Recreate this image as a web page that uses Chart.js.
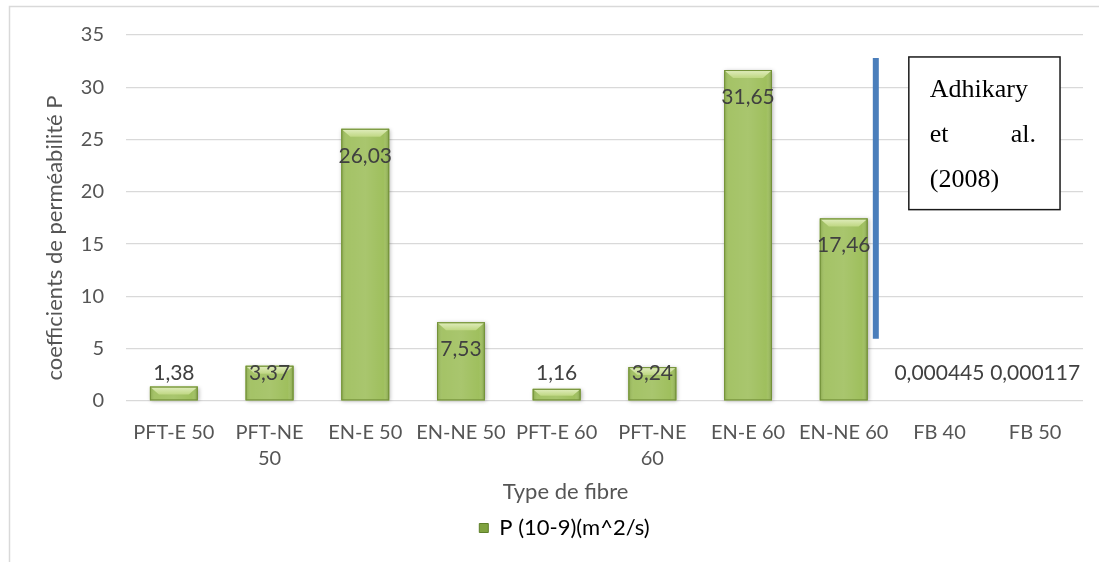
<!DOCTYPE html>
<html>
<head>
<meta charset="utf-8">
<script src="https://cdn.jsdelivr.net/npm/chart.js@4/dist/chart.umd.min.js"></script>
<style>
  html, body { margin: 0; padding: 0; background: #ffffff; }
  #wrap { position: relative; width: 1099px; height: 562px; }
  canvas { display: block; }
</style>
</head>
<body>
<div id="wrap"><canvas id="chart" width="1099" height="562"></canvas></div>
<script>
// Permeability coefficient per fibre type
const categories = [
  'PFT-E 50', ['PFT-NE', '50'], 'EN-E 50', 'EN-NE 50', 'PFT-E 60',
  ['PFT-NE', '60'], 'EN-E 60', 'EN-NE 60', 'FB 40', 'FB 50'
];
const permeability = [1.38, 3.37, 26.03, 7.53, 1.16, 3.24, 31.65, 17.46, 0.000445, 0.000117];
const seriesName = 'P (10-9)(m^2/s)';
const yTicks = [0, 5, 10, 15, 20, 25, 30, 35];
const xTitle = 'Type de fibre';
const yTitle = 'coefficients de perméabilité P';
const refLines = ['Adhikary', ['et', 'al.'], '(2008)'];

const TEXT = '#555555';
const FONT = 'Lato, "Open sans", sans-serif';
const BAR = '#9DBE5A';

// light frame around the figure
const framePlugin = {
  id: 'frame',
  beforeDraw(chart) {
    const c = chart.ctx;
    c.save();
    c.strokeStyle = '#D9D9D9';
    c.lineWidth = 1.5;
    c.beginPath();
    c.moveTo(9.5, chart.height);
    c.lineTo(9.5, 6.5);
    c.lineTo(chart.width, 6.5);
    c.stroke();
    c.restore();
  }
};

// legend sits a little left of the plot centre, under the axis title
const legendShift = {
  id: 'legendShift',
  afterLayout(chart) {
    const lg = chart.legend;
    if (!lg) return;
    lg.left += 18;
    lg.right += 18;
  }
};

// axis titles, drawn in the space reserved by the scales
const axisTitles = {
  id: 'axisTitles',
  afterDraw(chart) {
    const c = chart.ctx;
    const a = chart.chartArea;
    c.save();
    c.font = '22px ' + FONT;
    c.fillStyle = TEXT;
    c.textAlign = 'center';
    c.textBaseline = 'middle';
    c.fillText(xTitle, (a.left + a.right) / 2 - 39, a.bottom + 91);
    c.translate(55, (a.top + a.bottom) / 2 + 20);
    c.rotate(-Math.PI / 2);
    c.fillText(yTitle, 0, 0);
    c.restore();
  }
};

// soft shadow behind the bars
const shadowPlugin = {
  id: 'barShadow',
  beforeDatasetsDraw(chart) {
    const c = chart.ctx;
    const meta = chart.getDatasetMeta(0);
    c.save();
    c.shadowColor = 'rgba(0,0,0,0.3)';
    c.shadowBlur = 4;
    c.shadowOffsetX = 1;
    c.shadowOffsetY = 1;
    c.fillStyle = BAR;
    meta.data.forEach((bar) => {
      const h = bar.base - bar.y;
      if (h < 1) return;
      c.fillRect(bar.x - bar.width / 2, bar.y, bar.width, h);
    });
    c.restore();
  }
};

// bevelled look: side shading and a lighter top facet
const bevelPlugin = {
  id: 'bevel',
  afterDatasetsDraw(chart) {
    const c = chart.ctx;
    const meta = chart.getDatasetMeta(0);
    meta.data.forEach((bar) => {
      const w = bar.width;
      const left = bar.x - w / 2, right = bar.x + w / 2;
      const top = bar.y, bottom = bar.base;
      const h = bottom - top;
      if (h < 1) return;
      c.save();
      const g = c.createLinearGradient(left, 0, right, 0);
      g.addColorStop(0, 'rgba(80,110,30,0.3)');
      g.addColorStop(0.12, 'rgba(255,255,255,0.08)');
      g.addColorStop(0.5, 'rgba(255,255,255,0.12)');
      g.addColorStop(0.88, 'rgba(255,255,255,0.02)');
      g.addColorStop(1, 'rgba(60,90,20,0.35)');
      c.fillStyle = g;
      c.fillRect(left, top, w, h);
      const bv = Math.min(8, h * 0.6);
      const tg = c.createLinearGradient(0, top, 0, top + bv);
      tg.addColorStop(0, '#E2EEC0');
      tg.addColorStop(1, '#BFD783');
      c.fillStyle = tg;
      c.beginPath();
      c.moveTo(left + 1, top + 1);
      c.lineTo(right - 1, top + 1);
      c.lineTo(right - 1 - bv, top + bv);
      c.lineTo(left + 1 + bv, top + bv);
      c.closePath();
      c.fill();
      c.strokeStyle = '#74913A';
      c.lineWidth = 1;
      c.strokeRect(left + 0.5, top + 0.5, w - 1, h - 1);
      c.restore();
    });
  }
};

// value labels, inside the top of tall bars, above the short ones
const valueLabels = {
  id: 'valueLabels',
  afterDatasetsDraw(chart) {
    const c = chart.ctx;
    const meta = chart.getDatasetMeta(0);
    c.save();
    c.font = '21px ' + FONT;
    c.fillStyle = '#404040';
    c.textAlign = 'center';
    c.textBaseline = 'middle';
    meta.data.forEach((bar, i) => {
      const y = Math.min(bar.y + 27, bar.base - 27);
      c.fillText(String(permeability[i]).replace('.', ','), bar.x, y);
    });
    c.restore();
  }
};

// reference marker: vertical separator and citation box
const referencePlugin = {
  id: 'reference',
  afterDraw(chart) {
    const c = chart.ctx;
    const xs = chart.scales.x, ys = chart.scales.y;
    const step = xs.getPixelForValue(1) - xs.getPixelForValue(0);
    const lx = xs.getPixelForValue(7) + 0.335 * step;
    c.save();
    c.strokeStyle = '#4A7EBB';
    c.lineWidth = 6;
    c.beginPath();
    c.moveTo(lx, ys.getPixelForValue(32.8));
    c.lineTo(lx, ys.getPixelForValue(5.95));
    c.stroke();

    const bx = xs.getPixelForValue(7) + 0.68 * step;
    const bx2 = xs.getPixelForValue(9) + 0.26 * step;
    const by = ys.getPixelForValue(32.9);
    const by2 = ys.getPixelForValue(18.3);
    c.fillStyle = '#ffffff';
    c.fillRect(bx, by, bx2 - bx, by2 - by);
    c.strokeStyle = '#1a1a1a';
    c.lineWidth = 1.5;
    c.strokeRect(bx, by, bx2 - bx, by2 - by);

    c.font = '26px "Liberation Serif", "Times New Roman", serif';
    c.fillStyle = '#000000';
    c.textBaseline = 'alphabetic';
    const padL = 21, padR = 24;
    const base0 = by + 40, gap = 45;
    refLines.forEach((ln, i) => {
      const yy = base0 + i * gap;
      if (Array.isArray(ln)) {
        c.textAlign = 'left';
        c.fillText(ln[0], bx + padL, yy);
        c.textAlign = 'right';
        c.fillText(ln[1], bx2 - padR, yy);
      } else {
        c.textAlign = 'left';
        c.fillText(ln, bx + padL, yy);
      }
    });
    c.restore();
  }
};

// bars thinner than a pixel stay invisible instead of tinting the zero line
function barFill(ctx) {
  const ys = ctx.chart.scales.y;
  if (!ys || typeof ctx.raw !== 'number') return BAR;
  const h = Math.abs(ys.getPixelForValue(ctx.raw) - ys.getPixelForValue(0));
  return h < 1 ? 'rgba(0,0,0,0)' : BAR;
}

new Chart(document.getElementById('chart'), {
  type: 'bar',
  data: {
    labels: categories,
    datasets: [{
      label: seriesName,
      data: permeability,
      backgroundColor: barFill,
      borderColor: '#6F8C33',
      borderWidth: 0,
      inflateAmount: 0,
      barPercentage: 0.5,
      categoryPercentage: 1.0
    }]
  },
  options: {
    responsive: false,
    animation: false,
    devicePixelRatio: 1,
    layout: { padding: { left: 10, right: 16, top: 35, bottom: 13 } },
    plugins: {
      tooltip: { enabled: false },
      legend: {
        position: 'bottom',
        labels: {
          color: TEXT,
          font: { family: FONT, size: 22 },
          boxWidth: 9,
          boxHeight: 9,
          padding: 10,
          generateLabels(chart) {
            return [{
              text: seriesName,
              fillStyle: '#7FA23F',
              strokeStyle: '#5E7F2A',
              lineWidth: 1,
              datasetIndex: 0
            }];
          }
        }
      }
    },
    scales: {
      x: {
        grid: { display: false, drawTicks: false },
        border: { display: false },
        ticks: {
          color: TEXT,
          font: { family: FONT, size: 20, lineHeight: 1.3 },
          padding: 19,
          autoSkip: false,
          maxRotation: 0,
          minRotation: 0
        },
        title: { display: false },
        afterFit(scale) { scale.height = 106; }
      },
      y: {
        min: 0,
        max: 35,
        afterBuildTicks(scale) { scale.ticks = yTicks.map(v => ({ value: v })); },
        grid: { color: '#D9D9D9', lineWidth: 1.3, drawTicks: false },
        border: { display: false },
        ticks: {
          color: TEXT,
          font: { family: FONT, size: 20 },
          padding: 22
        },
        title: { display: false },
        afterFit(scale) { scale.width = 116; }
      }
    }
  },
  plugins: [framePlugin, legendShift, axisTitles, shadowPlugin, bevelPlugin, valueLabels, referencePlugin]
});
</script>
</body>
</html>
